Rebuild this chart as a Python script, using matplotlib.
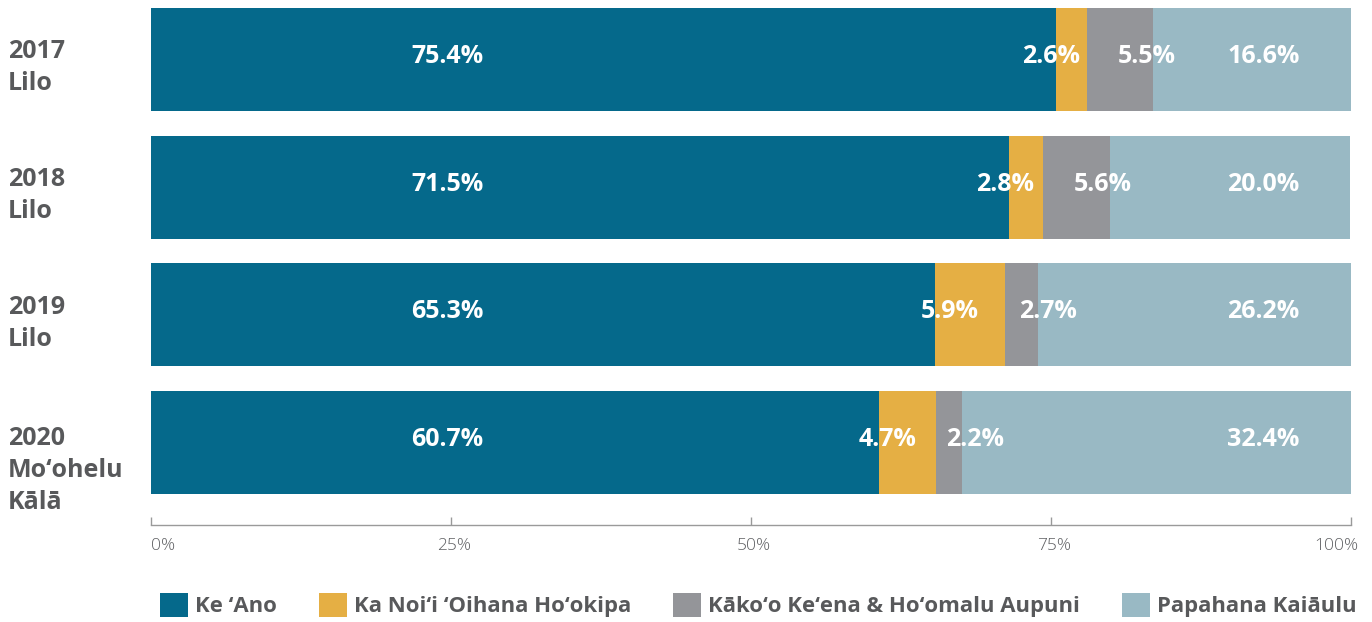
import matplotlib
matplotlib.use("Agg")
import matplotlib.pyplot as plt
from matplotlib.patches import Patch
from matplotlib.transforms import blended_transform_factory, ScaledTranslation
import numpy as np

plt.rcParams['font.family'] = ['Open Sans', 'DejaVu Sans']

row_labels = [["2017", "Lilo"], ["2018", "Lilo"], ["2019", "Lilo"], ["2020", "Mo‘ohelu", "Kālā"]]
series_names = ["Ke ‘Ano", "Ka Noi‘i ‘Oihana Ho‘okipa", "Kāko‘o Ke‘ena & Ho‘omalu Aupuni", "Papahana Kaiāulu"]
ke_ano = [75.4, 71.5, 65.3, 60.7]
ka_noii = [2.6, 2.8, 5.9, 4.7]
kakoo = [5.5, 5.6, 2.7, 2.2]
papahana = [16.6, 20.0, 26.2, 32.4]
tick_values = [0, 25, 50, 75, 100]
tick_labels = ["0%", "25%", "50%", "75%", "100%"]

colors = ["#05698B", "#E5AF44", "#949599", "#99B9C4"]
series = [ke_ano, ka_noii, kakoo, papahana]

W, H = 1372, 622
fig = plt.figure(figsize=(W / 100, H / 100), dpi=100)
ax = fig.add_axes([151 / W, 1 - 525 / H, 1200 / W, 517 / H])

y = np.arange(len(row_labels))
bar_h = 0.807
left = np.zeros(len(y))
for vals, c in zip(series, colors):
    ax.barh(y, vals, left=left, height=bar_h, color=c, edgecolor='none')
    left = left + np.array(vals)

ax.set_xlim(0, 100)
ax.set_ylim(3.645, -0.4035)

# value labels
starts = np.cumsum([np.zeros(4)] + [np.array(s) for s in series[:-1]], axis=0)
label_offsets = [None, -1.7, 2.2, None]
for k, (vals, st) in enumerate(zip(series, starts)):
    for i, v in enumerate(vals):
        if k == 0:
            x = 24.7
        elif k == 3:
            x = 92.7
        else:
            x = st[i] + v / 2 + label_offsets[k]
        ax.text(x, y[i] - 0.025, f"{v:.1f}%", ha='center', va='center', color='white',
                fontsize=18, fontweight='bold')

# row labels
trans = blended_transform_factory(fig.transFigure, ax.transData)
line_step = 32 / 127.7
for i, lines in enumerate(row_labels):
    base = y[i] - 0.01 + (0.03 if len(lines) > 2 else 0.0)
    for j, ln in enumerate(lines):
        ax.text(8 / W, base + j * line_step, ln, transform=trans, ha='left', va='baseline',
                fontsize=18, fontweight='bold', color='#58595B')

ax.set_yticks([])
for s in ['left', 'right', 'top']:
    ax.spines[s].set_visible(False)
ax.spines['bottom'].set_color('#9A9A9A')
ax.spines['bottom'].set_linewidth(1.0)
ax.set_xticks(tick_values)
ax.set_xticklabels(tick_labels, fontweight='light')
ax.tick_params(axis='x', direction='in', length=6, width=1, color='#9A9A9A',
               labelsize=12.5, labelcolor='#5F6063', pad=9)
tls = ax.get_xticklabels()
tls[0].set_ha('left')
tls[-1].set_ha('right')
tls[-1].set_transform(tls[-1].get_transform() + ScaledTranslation(7 / 100, 0, fig.dpi_scale_trans))
for t in tls[1:-1]:
    t.set_transform(t.get_transform() + ScaledTranslation(3 / 100, 0, fig.dpi_scale_trans))

handles = [Patch(facecolor=c, edgecolor='none') for c in colors]
fig.legend(handles, series_names, loc='center left', bbox_to_anchor=(160 / W, 17 / H),
           ncol=4, frameon=False, borderpad=0, borderaxespad=0,
           handlelength=1.28, handleheight=1.28, handletextpad=0.32, columnspacing=1.88,
           prop={'weight': 'bold', 'size': 15.9, 'family': ['Open Sans', 'DejaVu Sans']},
           labelcolor='#58595B')

fig.savefig("out.png", dpi=100)
